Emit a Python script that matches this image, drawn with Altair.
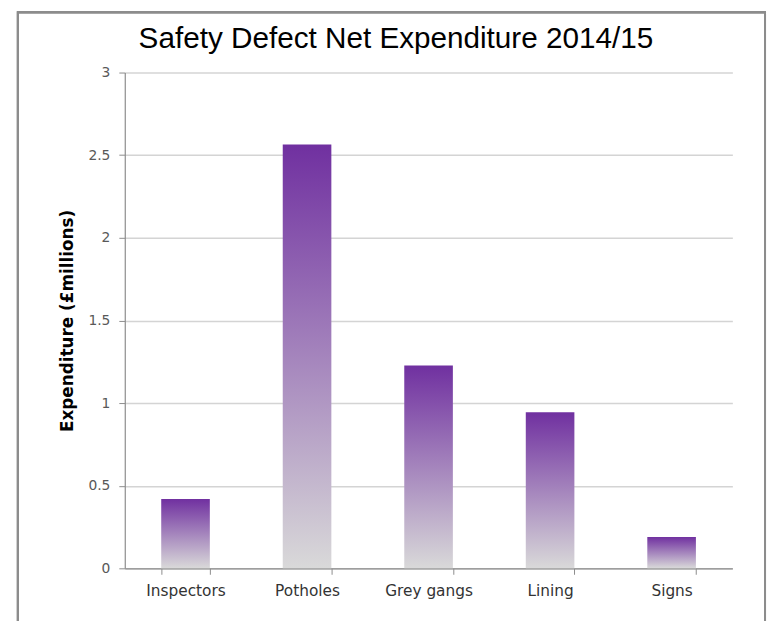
import altair as alt
import pandas as pd

categories = ["Inspectors", "Potholes", "Grey gangs", "Lining", "Signs"]
values = [0.42, 2.565, 1.228, 0.945, 0.19]
y_ticks = [0, 0.5, 1, 1.5, 2, 2.5, 3]

df = pd.DataFrame({"category": categories, "value": values})

gradient = alt.Gradient(
    gradient="linear",
    stops=[alt.GradientStop(color="#7030A0", offset=0),
           alt.GradientStop(color="#D9D9D9", offset=1)],
    x1=1, x2=1, y1=0, y2=1,
)

label_expr = "datum.value == 0 ? '0' : format(datum.value, '.1~f')"

bars = alt.Chart(df).mark_bar(color=gradient).encode(
    x=alt.X("category:N", sort=categories,
            scale=alt.Scale(paddingInner=0.6, paddingOuter=0.3),
            axis=alt.Axis(title=None, labelAngle=0, labelFont="DejaVu Sans",
                          labelFontSize=15.5, labelColor="#333333",
                          labelPadding=9, tickBand="extent", ticks=True,
                          tickSize=6, tickColor="#8c8c8c", domainColor="#8c8c8c",
                          domainWidth=1.2, grid=False)),
    y=alt.Y("value:Q",
            scale=alt.Scale(domain=[0, 3], nice=False),
            axis=alt.Axis(values=y_ticks, labelExpr=label_expr,
                          title="Expenditure (£millions)",
                          titleFont="DejaVu Sans", titleFontSize=17,
                          titleFontWeight="bold", titleColor="#000000",
                          titleAngle=270, titleX=-58, titleY=250.5,
                          titleAlign="center", titleBaseline="middle",
                          labelFont="DejaVu Sans", labelFontSize=14,
                          labelColor="#595959", labelPadding=9,
                          tickSize=6, tickColor="#8c8c8c",
                          domainColor="#8c8c8c", domainWidth=1.2,
                          grid=True, gridColor="#d4d4d4", gridWidth=1.5)),
)

frame = alt.Chart(df).mark_rect(filled=False, stroke="#8c8c8c", strokeWidth=2).encode(
    x=alt.value(-108), x2=alt.value(647), y=alt.value(-61), y2=alt.value(620)
)

chart = alt.layer(frame, bars).properties(
    width=614,
    height=501,
    title=alt.TitleParams(
        text="Safety Defect Net Expenditure 2014/15",
        font="Liberation Sans", fontSize=30, fontWeight="normal",
        color="#000000", anchor="middle", dx=-33, dy=57, offset=14,
    ),
    autosize=alt.AutoSizeParams(type="none"),
    padding={"left": 118, "top": 62, "right": 35, "bottom": 50},
).configure_view(stroke=None)

chart.save("out.html", embed_options={"renderer": "svg", "actions": False})
